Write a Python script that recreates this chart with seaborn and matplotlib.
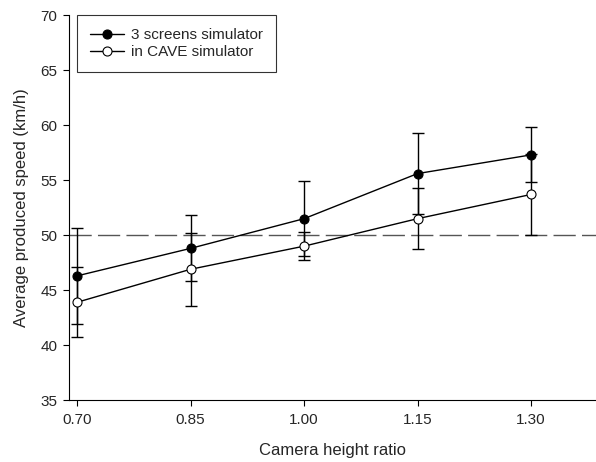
import numpy as np
import pandas as pd
import seaborn as sns
import matplotlib.pyplot as plt

sns.set_style("ticks")
plt.rcParams['font.family'] = ['Liberation Sans', 'DejaVu Sans']

# Data
ratio = [0.70, 0.85, 1.00, 1.15, 1.30]
screens_mean = [46.3, 48.8, 51.5, 55.6, 57.3]
screens_sd = [4.35, 3.0, 3.4, 3.7, 2.5]
cave_mean = [43.9, 46.9, 49.0, 51.5, 53.7]
cave_sd = [3.2, 3.3, 1.3, 2.8, 3.7]
reference_speed = 50

df = pd.DataFrame({'ratio': ratio,
                   'screens': screens_mean, 'screens_sd': screens_sd,
                   'cave': cave_mean, 'cave_sd': cave_sd})

fig = plt.figure(figsize=(5.96, 4.62), dpi=100)
ax = fig.add_axes([0.115, 0.134, 0.885, 0.833])

# reference line
ax.axhline(reference_speed, color='#555555', lw=1, ls=(0, (16, 4.5)), zorder=1)

# error bars
ax.errorbar(df['ratio'], df['screens'], yerr=df['screens_sd'], fmt='none',
            ecolor='black', elinewidth=1, capsize=4, capthick=1, zorder=2)
ax.errorbar(df['ratio'], df['cave'], yerr=df['cave_sd'], fmt='none',
            ecolor='black', elinewidth=1, capsize=4, capthick=1, zorder=2)

# lines + markers
sns.lineplot(data=df, x='ratio', y='screens', ax=ax, color='black', lw=1,
             marker='o', markersize=6.5, markerfacecolor='black',
             markeredgecolor='black', markeredgewidth=0.8,
             label='3 screens simulator', zorder=3)
sns.lineplot(data=df, x='ratio', y='cave', ax=ax, color='black', lw=1,
             marker='o', markersize=6.5, markerfacecolor='white',
             markeredgecolor='black', markeredgewidth=0.8,
             label='in CAVE simulator', zorder=3)

ax.set_xlim(0.6885, 1.386)
ax.set_ylim(35, 70)
ax.set_xticks(ratio)
ax.set_xticklabels(['%.2f' % r for r in ratio])
ax.set_yticks(np.arange(35, 71, 5))
ax.tick_params(axis='both', labelsize=11, length=4.5, width=0.8, color='black')
ax.tick_params(axis='x', pad=5)
ax.set_xlabel('Camera height ratio', fontsize=12, labelpad=11)
ax.set_ylabel('Average produced speed (km/h)', fontsize=12, labelpad=8)

sns.despine(ax=ax)
for s in ['left', 'bottom']:
    ax.spines[s].set_color('black')
    ax.spines[s].set_linewidth(0.8)

leg = ax.legend(loc='upper left', bbox_to_anchor=(0.016, 1.0), fontsize=11,
                frameon=True, fancybox=False, edgecolor='black',
                handlelength=2.2, borderpad=0.85, labelspacing=0.2,
                handletextpad=0.5, borderaxespad=0)
leg.get_frame().set_linewidth(0.8)

fig.savefig('out.png', dpi=100)
